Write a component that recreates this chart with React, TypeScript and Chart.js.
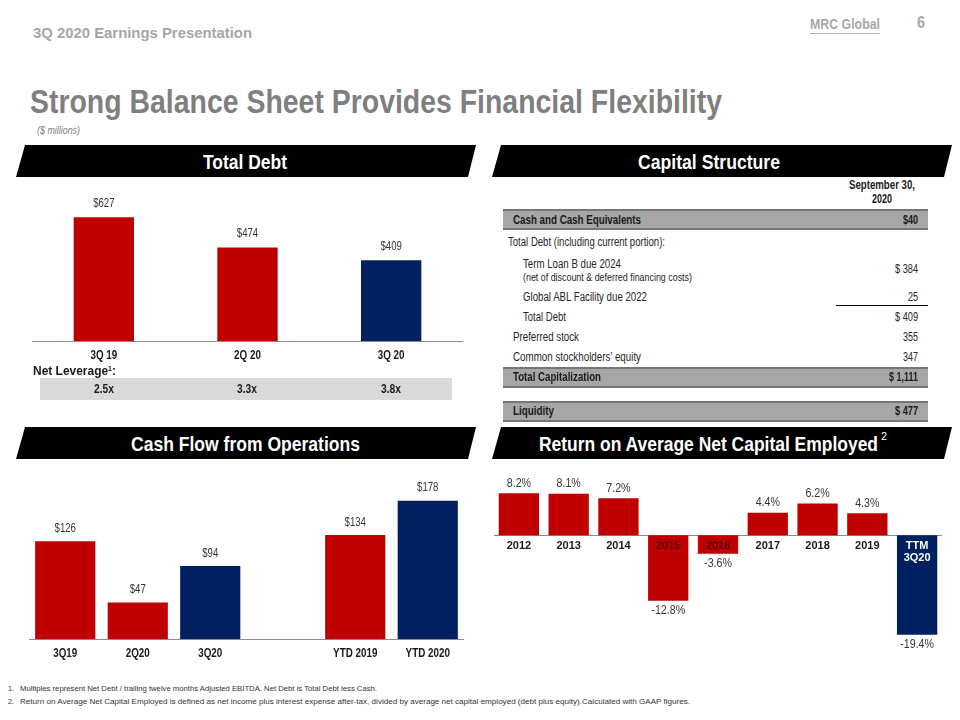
import React, { useEffect, useLayoutEffect, useRef } from "react";
import { Chart, registerables } from "chart.js";

Chart.register(...registerables);

const NARROW = '"Liberation Sans Narrow", "Arial Narrow", "Liberation Sans", Arial, sans-serif';
const ARIAL = '"Liberation Sans", Arial, sans-serif';
const RED = "#c00000";
const NAVY = "#002060";
const AXIS_GREY = "#8c8c8c";
const LABEL_DARK = "#1a1a1a";
const VALUE_GREY = "#363636";

// ---------------- data ----------------
const debtCategories = ["3Q 19", "2Q 20", "3Q 20"];
const debtValues = [627, 474, 409];
const netLeverage = ["2.5x", "3.3x", "3.8x"];

const cfoCategories = ["3Q19", "2Q20", "3Q20", "", "YTD 2019", "YTD 2020"];
const cfoValues: (number | null)[] = [126, 47, 94, null, 134, 178];

const roaceCategories: (string | string[])[] = ["2012", "2013", "2014", "2015", "2016", "2017", "2018", "2019", ["TTM", "3Q20"]];
const roaceValues = [8.2, 8.1, 7.2, -12.8, -3.6, 4.4, 6.2, 4.3, -19.4];

const capHeader = ["September 30,", "2020"];
const capLabels = [
  "Cash and Cash Equivalents",
  "Total Debt (including current portion):",
  "Term Loan B due 2024",
  "Global ABL Facility due 2022",
  "Total Debt",
  "Preferred stock",
  "Common stockholders\u2019 equity",
  "Total Capitalization",
  "Liquidity",
];
const capValues = ["$40", "", "$ 384", "25", "$ 409", "355", "347", "$ 1,111", "$ 477"];
const capNote = "(net of discount & deferred financing costs)";

const footnotes = [
  "Multiples represent Net Debt / trailing twelve months Adjusted EBITDA. Net Debt is Total Debt less Cash.",
  "Return on Average Net Capital Employed is defined as net income plus interest expense after-tax, divided by average net capital employed (debt plus equity).Calculated with GAAP figures.",
];

// ---------------- styles ----------------
const debtColors = [RED, RED, NAVY];
const cfoColors = [RED, RED, NAVY, RED, RED, NAVY];
const roaceColors = [RED, RED, RED, RED, RED, RED, RED, RED, NAVY];

// ---------------- helpers ----------------
function T(props: {
  x: number; cy: number; w?: number; size: number; bold?: boolean; italic?: boolean;
  color?: string; family?: string; underline?: boolean; children: any;
}) {
  const ref = useRef<HTMLSpanElement>(null);
  useLayoutEffect(() => {
    const el = ref.current;
    if (!el || !props.w) return;
    const fit = () => {
      el.style.transform = "none";
      const nat = el.getBoundingClientRect().width;
      if (nat > 0) el.style.transform = `scaleX(${props.w! / nat})`;
    };
    fit();
    const f: any = (document as any).fonts;
    if (f && f.ready) f.ready.then(fit);
  }, []);
  return (
    <span
      ref={ref}
      style={{
        position: "absolute",
        left: props.x,
        top: props.cy - props.size / 2,
        fontSize: props.size,
        lineHeight: `${props.size}px`,
        height: props.size,
        fontFamily: props.family ?? NARROW,
        fontWeight: props.bold ? 700 : 400,
        fontStyle: props.italic ? "italic" : "normal",
        color: props.color ?? "#000",
        whiteSpace: "pre",
        transformOrigin: "0 50%",
        textDecoration: props.underline ? "underline" : "none",
      }}
    >
      {props.children}
    </span>
  );
}

function Band({ x0, x1, top }: { x0: number; x1: number; top: number }) {
  return (
    <div
      style={{
        position: "absolute",
        left: x0,
        top,
        width: x1 - x0,
        height: 32,
        background: "#000",
        clipPath: "polygon(9px 0, 100% 0, calc(100% - 8px) 100%, 0 100%)",
      }}
    />
  );
}

function GreyRow({ top }: { top: number }) {
  return (
    <div
      style={{
        position: "absolute",
        left: 503,
        top,
        width: 425,
        height: 21,
        background: "#a6a6a6",
        borderTop: "2px solid #767676",
        borderBottom: "2px solid #767676",
        boxSizing: "border-box",
      }}
    />
  );
}

// value labels above / below each bar, slightly condensed like Arial Narrow
function valueLabels(format: (v: number) => string, size: number, sx: number, gap: number) {
  return {
    id: "valueLabels",
    afterDatasetsDraw(chart: any) {
      const ctx = chart.ctx;
      const meta = chart.getDatasetMeta(0);
      const data = chart.data.datasets[0].data;
      ctx.save();
      ctx.font = `${size}px ${ARIAL}`;
      ctx.fillStyle = VALUE_GREY;
      ctx.textAlign = "center";
      ctx.textBaseline = "middle";
      meta.data.forEach((el: any, i: number) => {
        const v = data[i];
        if (v === null || v === undefined) return;
        const y = v >= 0 ? el.y - gap : el.y + gap;
        ctx.save();
        ctx.translate(el.x, y);
        ctx.scale(sx, 1);
        ctx.fillText(format(v), 0, 0);
        ctx.restore();
      });
      ctx.restore();
    },
  };
}

// category labels drawn at the x scale's tick pixels, condensed
function narrowTicks(sx: number, offset: number) {
  return {
    id: "narrowTicks",
    afterDraw(chart: any) {
      const scale = chart.scales.x;
      const ctx = chart.ctx;
      const labels = chart.data.labels;
      const y = chart.chartArea.bottom + offset;
      ctx.save();
      ctx.font = `bold 12px ${ARIAL}`;
      ctx.fillStyle = LABEL_DARK;
      ctx.textAlign = "center";
      ctx.textBaseline = "middle";
      labels.forEach((lab: string, i: number) => {
        if (!lab) return;
        const x = scale.getPixelForTick(i);
        ctx.save();
        ctx.translate(x, y);
        ctx.scale(sx, 1);
        ctx.fillText(lab, 0, 0);
        ctx.restore();
      });
      ctx.restore();
    },
  };
}

function bottomAxis() {
  return {
    grid: { display: false, drawTicks: false },
    border: { display: true, color: AXIS_GREY, width: 1 },
    ticks: { display: false, autoSkip: false, maxRotation: 0 },
    afterFit: (s: any) => {
      s.height = 30;
    },
  };
}

function baseOptions(scales: any, padding: any = 0) {
  return {
    responsive: false,
    animation: false,
    devicePixelRatio: 1,
    events: [],
    layout: { padding },
    plugins: { legend: { display: false }, tooltip: { enabled: false } },
    scales,
  };
}

function debtConfig(): any {
  return {
    type: "bar",
    data: {
      labels: debtCategories,
      datasets: [{ data: debtValues, backgroundColor: debtColors, borderWidth: 0, barPercentage: 0.42, categoryPercentage: 1 }],
    },
    options: baseOptions({ x: bottomAxis(), y: { display: false, min: 0, max: 800 } }),
    plugins: [valueLabels((v) => `$${v}`, 13, 0.74, 14), narrowTicks(0.82, 15)],
  };
}

function cfoConfig(): any {
  return {
    type: "bar",
    data: {
      labels: cfoCategories,
      datasets: [{ data: cfoValues, backgroundColor: cfoColors, borderWidth: 0, barPercentage: 0.83, categoryPercentage: 1 }],
    },
    options: baseOptions({ x: bottomAxis(), y: { display: false, min: 0, max: 210 } }),
    plugins: [valueLabels((v) => `$${v}`, 13, 0.74, 13), narrowTicks(0.82, 15)],
  };
}

function roaceConfig(): any {
  return {
    type: "bar",
    data: {
      labels: roaceCategories,
      datasets: [{ data: roaceValues, backgroundColor: roaceColors, borderWidth: 0, barPercentage: 0.81, categoryPercentage: 1 }],
    },
    options: baseOptions(
      {
        x: {
          position: { y: 0 },
          grid: { display: false, drawTicks: false },
          border: { display: true, color: AXIS_GREY, width: 1 },
          ticks: {
            z: 1,
            padding: 4,
            autoSkip: false,
            maxRotation: 0,
            font: { family: ARIAL, size: 11, weight: "bold", lineHeight: 1.15 },
            color: (c: any) => (c.index === 8 ? "#ffffff" : c.index === 3 || c.index === 4 ? "#5a0000" : LABEL_DARK),
          },
        },
        y: { display: false, min: -22, max: 10 },
      },
      { top: 20, bottom: 10, left: 0, right: 0 }
    ),
    plugins: [valueLabels((v) => `${v.toFixed(1)}%`, 13, 0.82, 10)],
  };
}

function ChartCanvas({ left, top, width, height, make }: any) {
  const ref = useRef<HTMLCanvasElement>(null);
  useEffect(() => {
    const chart = new Chart(ref.current!, make());
    return () => chart.destroy();
  }, []);
  return (
    <div style={{ position: "absolute", left, top, width, height }}>
      <canvas ref={ref} width={width} height={height} />
    </div>
  );
}

export default function App() {
  const levCenters = [104, 247, 391];
  const levWidths = [20, 20, 20];
  return (
    <div
      style={{
        position: "absolute",
        left: 0,
        top: 0,
        width: 960,
        height: 720,
        background: "#fff",
        overflow: "hidden",
      }}
    >
      {/* page header */}
      <T x={33} cy={33} w={219} size={14} bold color="#a6a6a6" family={ARIAL}>3Q 2020 Earnings Presentation</T>
      <T x={810} cy={23} w={70} size={15} bold color="#a8a8a8" family={ARIAL}>MRC Global</T>
      <div style={{ position: "absolute", left: 810, top: 33, width: 70, height: 1, background: "#b0b0b0" }} />
      <T x={917} cy={23} w={8} size={16} bold color="#a8a8a8" family={ARIAL}>6</T>

      <T x={30} cy={101} w={692} size={34} bold color="#7f7f7f">Strong Balance Sheet Provides Financial Flexibility</T>
      <T x={37} cy={131} w={43} size={10} italic color="#808080">($ millions)</T>

      {/* section bands */}
      <Band x0={16} x1={476} top={145} />
      <T x={203} cy={161} w={84} size={21} bold color="#fff">Total Debt</T>
      <Band x0={492} x1={952} top={145} />
      <T x={638} cy={161} w={142} size={21} bold color="#fff">Capital Structure</T>
      <Band x0={16} x1={476} top={427} />
      <T x={131} cy={443} w={229} size={21} bold color="#fff">Cash Flow from Operations</T>
      <Band x0={492} x1={952} top={427} />
      <T x={539} cy={443} w={339} size={21} bold color="#fff">Return on Average Net Capital Employed</T>
      <T x={881} cy={436} w={6} size={11} color="#fff">2</T>

      {/* Total debt chart */}
      <ChartCanvas left={32} top={183} width={431} height={188} make={debtConfig} />
      <T x={33} cy={369} w={83} size={12} bold color="#1a1a1a">
        Net Leverage<span style={{ fontSize: 7, verticalAlign: "4px" }}>1</span>:
      </T>
      <div style={{ position: "absolute", left: 40, top: 378, width: 412, height: 22, background: "#d9d9d9" }} />
      {netLeverage.map((v, i) => (
        <T key={i} x={levCenters[i] - levWidths[i] / 2} cy={389} w={levWidths[i]} size={12} bold color="#1a1a1a">
          {v}
        </T>
      ))}

      {/* Capital structure table */}
      <T x={849} cy={185} w={66} size={12} bold color="#1a1a1a">{capHeader[0]}</T>
      <T x={872} cy={199} w={20} size={12} bold color="#1a1a1a">{capHeader[1]}</T>

      <GreyRow top={209} />
      <T x={513} cy={220} w={128} size={12} bold color="#1a1a1a">{capLabels[0]}</T>
      <T x={903} cy={220} w={15} size={12} bold color="#1a1a1a">{capValues[0]}</T>

      <T x={508} cy={242} w={157} size={12} color="#262626">{capLabels[1]}</T>

      <T x={523} cy={264} w={98} size={12} color="#262626">{capLabels[2]}</T>
      <T x={523} cy={277} w={169} size={11} color="#262626">{capNote}</T>
      <T x={895} cy={269} w={23} size={12} color="#262626">{capValues[2]}</T>

      <T x={523} cy={297} w={124} size={12} color="#262626">{capLabels[3]}</T>
      <T x={908} cy={297} w={10} size={12} color="#262626">{capValues[3]}</T>
      <div style={{ position: "absolute", left: 836, top: 305, width: 92, height: 1, background: "#000" }} />

      <T x={523} cy={317} w={43} size={12} color="#262626">{capLabels[4]}</T>
      <T x={895} cy={317} w={23} size={12} color="#262626">{capValues[4]}</T>

      <T x={513} cy={337} w={66} size={12} color="#262626">{capLabels[5]}</T>
      <T x={903} cy={337} w={15} size={12} color="#262626">{capValues[5]}</T>

      <T x={513} cy={357} w={128} size={12} color="#262626">{capLabels[6]}</T>
      <T x={903} cy={357} w={15} size={12} color="#262626">{capValues[6]}</T>

      <GreyRow top={367} />
      <T x={513} cy={377} w={88} size={12} bold color="#1a1a1a">{capLabels[7]}</T>
      <T x={889} cy={377} w={29} size={12} bold color="#1a1a1a">{capValues[7]}</T>

      <GreyRow top={401} />
      <T x={513} cy={411} w={41} size={12} bold color="#1a1a1a">{capLabels[8]}</T>
      <T x={895} cy={411} w={23} size={12} bold color="#1a1a1a">{capValues[8]}</T>

      {/* Cash flow chart */}
      <ChartCanvas left={29} top={476} width={435} height={193} make={cfoConfig} />

      {/* ROANCE chart: chart area 484..648 (padding top 20, bottom 10) */}
      <ChartCanvas left={494} top={464} width={448} height={194} make={roaceConfig} />

      {/* footnotes */}
      <T x={8} cy={689} w={6} size={8} color="#333">1.</T>
      <T x={20} cy={689} w={357} size={8} color="#333">{footnotes[0]}</T>
      <T x={8} cy={702} w={6} size={8} color="#333">2.</T>
      <T x={20} cy={702} w={670} size={8} color="#333">{footnotes[1]}</T>
    </div>
  );
}
